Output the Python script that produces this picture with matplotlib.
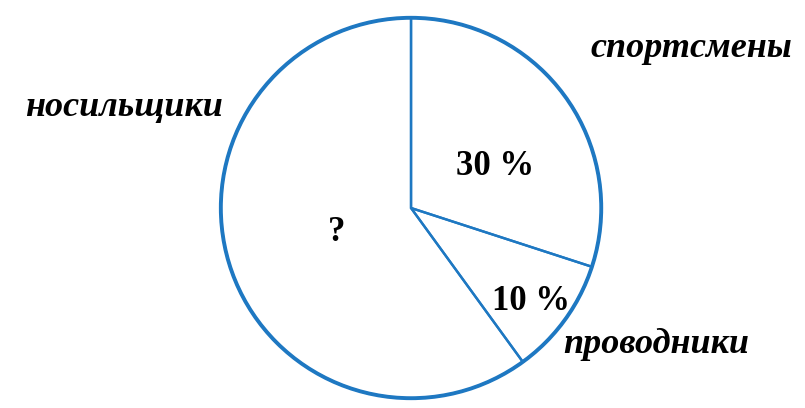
# Круговая диаграмма: состав группы
import matplotlib.pyplot as plt
from matplotlib.patches import Circle

# Данные
groups = ["спортсмены", "проводники", "носильщики"]
shares = [30, 10, 60]
share_labels = ["30 %", "10 %", "?"]

blue = "#1E78C2"

fig = plt.figure(figsize=(8.05, 4.08), dpi=100)

ax = fig.add_axes([0.2696, 0.0147, 0.482, 0.951])
ax.patch.set_alpha(0)

wedges, _ = ax.pie(shares, startangle=90, counterclock=False, radius=1,
                   wedgeprops=dict(facecolor="none", edgecolor=blue, linewidth=1.7))
ax.add_patch(Circle((0, 0), 1, fill=False, edgecolor=blue, linewidth=2.8))

ax.set_xlim(-1.02, 1.02)
ax.set_ylim(-1.02, 1.02)
ax.set_aspect("equal")
ax.axis("off")

# подписи долей внутри секторов
inner_pos = [(0.44, 0.22), (0.63, -0.49), (-0.39, -0.13)]
for (x, y), t in zip(inner_pos, share_labels):
    ax.text(x, y, t, ha="center", va="center", fontsize=25, fontweight="bold",
            family="Liberation Serif")

# названия групп снаружи
outer_pos = [(1.474, 0.84), (1.289, -0.717), (-1.51, 0.531)]
for (x, y), name in zip(outer_pos, groups):
    ax.text(x, y, name, ha="center", va="center", fontsize=26, fontweight="bold",
            style="italic", family="Liberation Serif", clip_on=False)

plt.savefig("out.png", dpi=100)
